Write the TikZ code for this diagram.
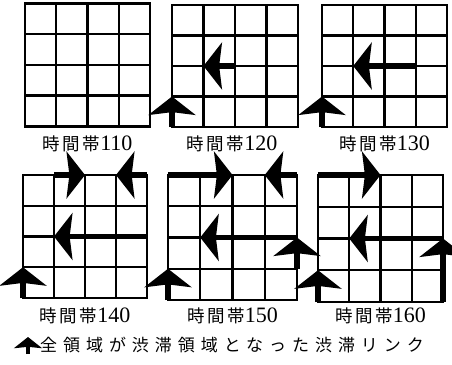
\documentclass[tikz,border=0pt]{standalone}
\usepackage{fontspec}
\setmainfont{Liberation Serif}
\newfontfamily\jp[LetterSpace=15]{Noto Sans CJK JP}
\newfontfamily\jpleg[LetterSpace=35]{Noto Sans CJK JP}
\usetikzlibrary{arrows.meta,positioning}

% label under each grid
\newcommand{\jikan}[1]{{\jp\fontsize{17.5}{17.5}\selectfont 時間帯}{\fontsize{22}{22}\selectfont #1}}
% 4x4 grid: name, left, top, cell width, cell height
\newcommand{\cellgrid}[5]{%
  \foreach \i in {0,...,4}{\foreach \j in {0,...,4}{%
    \coordinate (#1-\i-\j) at ({#2+\i*#4},{#3+\j*#5});}}
  \foreach \k in {0,...,4}{%
    \draw[gridln] (#1-\k-0) -- (#1-\k-4);
    \draw[gridln] (#1-0-\k) -- (#1-4-\k);}
}

\begin{document}
\begin{tikzpicture}[
  x=1pt,y=-1pt,
  gridln/.style={line width=2.4pt,line cap=rect},
  jam/.style={-{Stealth[length=13pt,width=33pt,inset=2pt,scale=1.42]},line width=5.5pt},
  lbl/.style={inner sep=0pt}
]
\useasboundingbox (0,0) rectangle (452,364);

\cellgrid{g1}{25}{3.5}{31.25}{30.7}
\cellgrid{g2}{172}{5}{31.5}{30.5}
\cellgrid{g3}{322}{5}{31.25}{30.5}
\cellgrid{g4}{23}{175}{31}{30.75}
\cellgrid{g5}{168}{175}{32.25}{31.25}
\cellgrid{g6}{318}{175}{31.25}{31.75}

% time slot labels
\coordinate (rowa) at (0,144);
\coordinate (rowb) at (0,316);
\node[lbl] (t110) at (g1-2-4 |- rowa) {\jikan{110}};
\node[lbl] (t120) at ([xshift=-3pt]g2-2-4 |- rowa) {\jikan{120}};
\node[lbl] (t130) at (g3-2-4 |- rowa) {\jikan{130}};
\node[lbl] (t140) at (g4-2-4 |- rowb) {\jikan{140}};
\node[lbl] (t150) at (g5-2-4 |- rowb) {\jikan{150}};
\node[lbl] (t160) at (g6-2-4 |- rowb) {\jikan{160}};

% congested links
\draw[jam] (g2-2-2) -- (g2-1-2);
\draw[jam] (g2-0-4) -- (g2-0-3);

\draw[jam] (g3-3-2) -- (g3-1-2);
\draw[jam] (g3-0-4) -- (g3-0-3);

\draw[jam] (g4-1-0) -- (g4-2-0);
\draw[jam] (g4-4-0) -- (g4-3-0);
\draw[jam] (g4-4-2) -- (g4-1-2);
\draw[jam] (g4-0-4) -- (g4-0-3);

\draw[jam] (g5-0-0) -- (g5-2-0);
\draw[jam] (g5-4-0) -- (g5-3-0);
\draw[jam] (g5-4-2) -- (g5-1-2);
\draw[jam] (g5-4-3) -- (g5-4-2);
\draw[jam] (g5-0-4) -- (g5-0-3);

\draw[jam] (g6-0-0) -- (g6-2-0);
\draw[jam] (g6-4-2) -- (g6-1-2);
\draw[jam] (g6-4-4) -- (g6-4-2);
\draw[jam] (g6-0-4) -- (g6-0-3);

% legend
\node[lbl,anchor=west] (leg) at (40,345) {\jpleg\fontsize{17}{17}\selectfont 全領域が渋滞領域となった渋滞リンク};
\coordinate (legtail) at (28,354);
\coordinate (leghead) at (28,337);
\draw[-{Stealth[length=8pt,width=20pt,inset=1pt,scale=1.4]},line width=3.5pt] (legtail) -- (leghead);
\end{tikzpicture}
\end{document}
